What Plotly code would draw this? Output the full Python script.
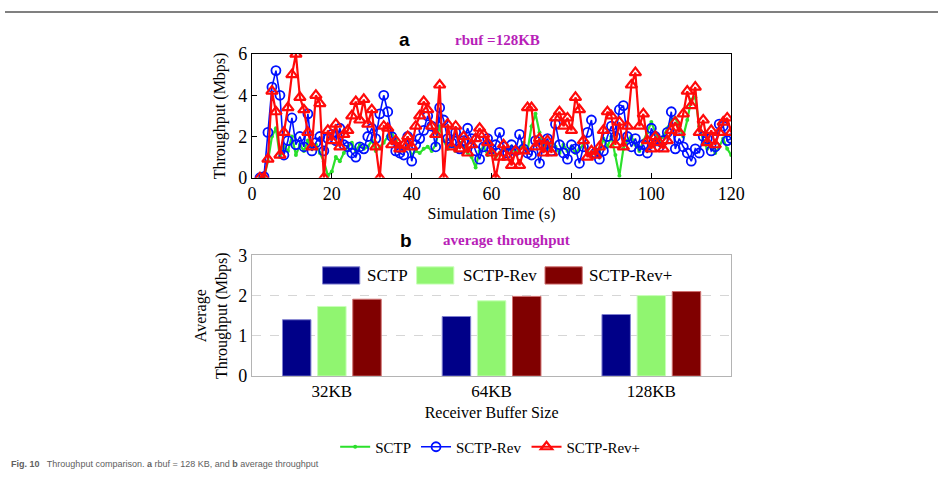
import plotly.graph_objects as go

# ---------------- data ----------------
time_s = list(range(2, 121))

sctp = [
    0, 0, 0.8, 2.0, 2.4, 1.0, 1.5, 1.3, 2.0, 1.1,
    1.6, 1.3, 1.8, 1.4, 1.6, 1.2, 0.8, 0.1, 0.3, 1.0,
    0.8, 1.2, 1.5, 1.7, 1.3, 1.6, 1.4, 1.5, 1.8, 1.3,
    1.5, 1.7, 2.0, 2.2, 1.8, 1.5, 1.3, 1.6, 1.1, 1.3,
    1.2, 1.4, 1.5, 1.3, 1.6, 2.5, 1.8, 1.4, 1.6, 1.3,
    1.7, 1.5, 1.2, 1.0, 0.5, 1.3, 1.5, 1.1, 1.3, 1.0,
    1.2, 1.4, 1.3, 1.5, 1.2, 1.4, 1.7, 1.3, 2.5, 3.1,
    2.2, 1.6, 1.4, 1.8, 1.5, 1.2, 1.6, 1.3, 1.5, 1.2,
    1.4, 1.6, 1.3, 1.1, 1.4, 1.2, 1.9, 1.5, 2.0, 1.1,
    0.1, 1.4, 1.8, 2.0, 1.6, 1.3, 1.8, 2.2, 2.7, 2.2,
    1.8, 2.0, 2.4, 2.8, 2.9, 2.5, 2.0, 2.8, 3.8, 3.9,
    2.5, 1.8, 1.4, 1.6, 1.2, 1.5, 1.9, 1.4, 1.1,
]

sctp_rev = [
    0, 0.05, 2.2, 4.4, 5.2, 4.0, 1.1, 1.8, 2.9, 1.6,
    2.0, 1.5, 3.1, 1.3, 1.7, 2.0, 1.3, 1.9, 2.1, 1.8,
    2.4, 1.6, 1.5, 1.2, 1.0, 1.5, 1.4, 2.0, 2.4, 1.9,
    3.1, 4.0, 3.2, 2.0, 1.3, 1.2, 1.1, 2.0, 0.8, 1.6,
    1.9, 2.3, 3.0, 2.5, 1.5, 3.4, 2.8, 1.9, 1.7, 2.2,
    1.4, 1.8, 2.4, 1.9, 1.3, 0.9, 1.5, 1.9, 1.4, 1.6,
    2.2, 1.5, 1.2, 1.6, 1.3, 2.1, 1.4, 1.2, 1.1, 1.8,
    0.7, 1.6, 1.9, 1.3, 2.6, 1.6, 1.2, 0.9, 1.6, 1.4,
    0.7, 1.5, 2.2, 2.8, 1.2, 0.9, 1.3, 2.0, 2.5, 2.0,
    3.3, 3.5, 2.0, 1.5, 1.9, 1.3, 1.6, 1.2, 2.4, 2.0,
    1.5, 1.8, 2.2, 3.2, 1.4, 1.9, 1.5, 1.2, 0.8, 1.4,
    1.2, 2.0, 1.9, 1.3, 1.5, 2.6, 2.5, 1.8, 1.9,
]

sctp_rev_plus = [
    0, 0, 0.9, 4.2, 3.2, 1.1, 2.2, 3.4, 5.0, 6.0,
    3.9, 3.3, 2.2, 1.5, 4.0, 3.6, 0, 2.3, 1.8, 2.6,
    1.5, 2.1, 2.3, 3.0, 3.7, 2.8, 3.8, 2.6, 3.3, 1.5,
    0, 2.5, 2.4, 1.6, 1.8, 1.4, 1.6, 2.0, 1.5, 2.5,
    3.0, 3.7, 3.3, 2.5, 2.1, 4.5, 0, 2.6, 1.5, 2.5,
    1.4, 2.0, 1.2, 1.6, 1.9, 2.4, 2.1, 1.7, 1.2, 0,
    1.0, 1.6, 1.0, 0.6, 1.3, 0.6, 1.3, 3.4, 3.4, 1.5,
    1.9, 1.2, 1.8, 1.2, 2.9, 3.2, 2.5, 2.9, 2.3, 3.9,
    3.3, 1.8, 1.0, 1.3, 1.1, 1.5, 2.3, 3.2, 3.0, 1.6,
    2.7, 1.5, 2.5, 4.5, 5.1, 2.5, 3.1, 1.8, 1.4, 2.0,
    1.7, 1.4, 1.8, 2.3, 2.7, 2.2, 3.1, 4.2, 3.5, 4.4,
    2.2, 2.8, 1.7, 2.3, 1.6, 2.2, 2.7, 2.9, 2.2,
]

buffer_sizes = ["32KB", "64KB", "128KB"]
avg_sctp = [1.40, 1.48, 1.53]
avg_sctp_rev = [1.73, 1.87, 2.00]
avg_sctp_rev_plus = [1.91, 1.98, 2.10]

series_names = ["SCTP", "SCTP-Rev", "SCTP-Rev+"]

# ---------------- layout helpers ----------------
W, H = 952, 480


def px(x):
    return x / W


def py(y):
    return 1 - y / H


SERIF = "Liberation Serif, Times New Roman, serif"
SANS = "Liberation Sans, Arial, sans-serif"
MAGENTA = "#B81FB8"

GREEN_LINE = "#2BE02B"
BLUE_LINE = "#0010FF"
RED_LINE = "#FF0A0A"
BAR_NAVY = "#000088"
BAR_GREEN = "#90F570"
BAR_RED = "#800000"

fig = go.Figure()

# ---------------- top: time series ----------------
fig.add_trace(go.Scatter(
    x=time_s, y=sctp, name=series_names[0], mode="lines+markers",
    line=dict(color=GREEN_LINE, width=2.2),
    marker=dict(size=4, color=GREEN_LINE),
    xaxis="x", yaxis="y", legend="legend",
))
fig.add_trace(go.Scatter(
    x=time_s, y=sctp_rev, name=series_names[1], mode="lines+markers",
    line=dict(color=BLUE_LINE, width=1.6),
    marker=dict(size=9, symbol="circle-open", color=BLUE_LINE,
                line=dict(width=1.8, color=BLUE_LINE)),
    xaxis="x", yaxis="y", legend="legend",
))
fig.add_trace(go.Scatter(
    x=time_s, y=sctp_rev_plus, name=series_names[2], mode="lines+markers",
    line=dict(color=RED_LINE, width=2.2),
    marker=dict(size=10, symbol="triangle-up-open", color=RED_LINE,
                line=dict(width=2.2, color=RED_LINE)),
    xaxis="x", yaxis="y", legend="legend",
))

# ---------------- bottom: bars ----------------
bar_colors = [BAR_NAVY, BAR_GREEN, BAR_RED]
bar_edges = ["#8080d0", "#c8ffb8", "#d07070"]
for name, vals, col, edge in zip(series_names,
                                 [avg_sctp, avg_sctp_rev, avg_sctp_rev_plus],
                                 bar_colors, bar_edges):
    fig.add_trace(go.Bar(
        x=buffer_sizes, y=vals, name=name,
        marker=dict(color=col, line=dict(color=edge, width=1)),
        xaxis="x2", yaxis="y2", showlegend=False,
    ))

x_dom = [px(252), px(741)]

fig.update_layout(
    width=W, height=H,
    margin=dict(l=0, r=0, t=0, b=0),
    paper_bgcolor="white", plot_bgcolor="white",
    font=dict(family=SERIF, size=16, color="black"),
    barmode="group", bargap=0.34, bargroupgap=0.19,
    xaxis=dict(
        domain=x_dom, anchor="y", range=[0, 120], dtick=20,
        ticks="inside", ticklen=5, tickwidth=1, tickcolor="black",
        showline=True, mirror=True, linecolor="black", linewidth=1,
        showgrid=False, zeroline=False,
        tickfont=dict(family=SERIF, size=18),
        title=dict(text="Simulation Time (s)", font=dict(family=SERIF, size=16), standoff=4),
    ),
    yaxis=dict(
        domain=[py(175), py(46)], anchor="x", range=[0, 6], dtick=2,
        ticks="inside", ticklen=5, tickwidth=1, tickcolor="black",
        showline=True, mirror=True, linecolor="black", linewidth=1,
        showgrid=False, zeroline=False,
        tickfont=dict(family=SERIF, size=18),
        title=dict(text="Throughput (Mbps)", font=dict(family=SERIF, size=16), standoff=8),
    ),
    xaxis2=dict(
        domain=x_dom, anchor="y2",
        ticks="", showline=True, mirror=True, linecolor="#b4b4b4", linewidth=1,
        showgrid=False, zeroline=False,
        tickfont=dict(family=SERIF, size=17),
        title=dict(text="Receiver Buffer Size", font=dict(family=SERIF, size=16), standoff=6),
    ),
    yaxis2=dict(
        domain=[py(382), py(256)], anchor="x2", range=[0, 3], dtick=1,
        ticks="", showline=True, mirror=True, linecolor="#b4b4b4", linewidth=1,
        showgrid=True, gridcolor="#d6d6d6", griddash="dash", zeroline=False,
        tickfont=dict(family=SERIF, size=18),
        title=dict(text="Average<br>Throughput (Mbps)", font=dict(family=SERIF, size=16), standoff=6),
    ),
    legend=dict(
        orientation="h", x=0.52, xanchor="center", y=py(456), yanchor="middle",
        font=dict(family=SERIF, size=15), bgcolor="rgba(0,0,0,0)",
        itemwidth=30, tracegroupgap=0,
    ),
)

# ---------------- bar legend (drawn inside the lower panel) ----------------
leg_items = [(324, 367), (420, 465), (551, 594)]
shapes = []
annotations = []
for (sx, tx), col, edge, name in zip(leg_items, bar_colors, bar_edges, series_names):
    shapes.append(dict(type="rect", xref="paper", yref="paper",
                       x0=px(sx), x1=px(sx + 38), y0=py(286), y1=py(268),
                       fillcolor=col, line=dict(color=edge, width=1)))
    annotations.append(dict(text=name, xref="paper", yref="paper",
                            x=px(tx), y=py(277), xanchor="left", yanchor="middle",
                            showarrow=False, font=dict(family=SERIF, size=17)))

# top rule line
shapes.append(dict(type="line", xref="paper", yref="paper",
                   x0=0, x1=1, y0=py(2), y1=py(2),
                   line=dict(color="#808080", width=2)))

# panel titles
annotations += [
    dict(text="<b>a</b>", xref="paper", yref="paper", x=px(408), y=py(31),
         xanchor="center", yanchor="middle", showarrow=False,
         font=dict(family=SANS, size=19, color="black")),
    dict(text="<b>rbuf =128KB</b>", xref="paper", yref="paper", x=px(503), y=py(31),
         xanchor="center", yanchor="middle", showarrow=False,
         font=dict(family=SERIF, size=15, color=MAGENTA)),
    dict(text="<b>b</b>", xref="paper", yref="paper", x=px(409), y=py(240),
         xanchor="center", yanchor="middle", showarrow=False,
         font=dict(family=SANS, size=19, color="black")),
    dict(text="<b>average throughput</b>", xref="paper", yref="paper", x=px(512), y=py(240),
         xanchor="center", yanchor="middle", showarrow=False,
         font=dict(family=SERIF, size=15, color=MAGENTA)),
    dict(text="<b>Fig. 10</b>   Throughput comparison. <b>a</b> rbuf = 128 KB, and <b>b</b> average throughput",
         xref="paper", yref="paper", x=px(4), y=py(474),
         xanchor="left", yanchor="middle", showarrow=False,
         font=dict(family=SANS, size=9, color="#606060")),
]

fig.update_layout(shapes=shapes, annotations=annotations)

fig.write_html("out.html")
